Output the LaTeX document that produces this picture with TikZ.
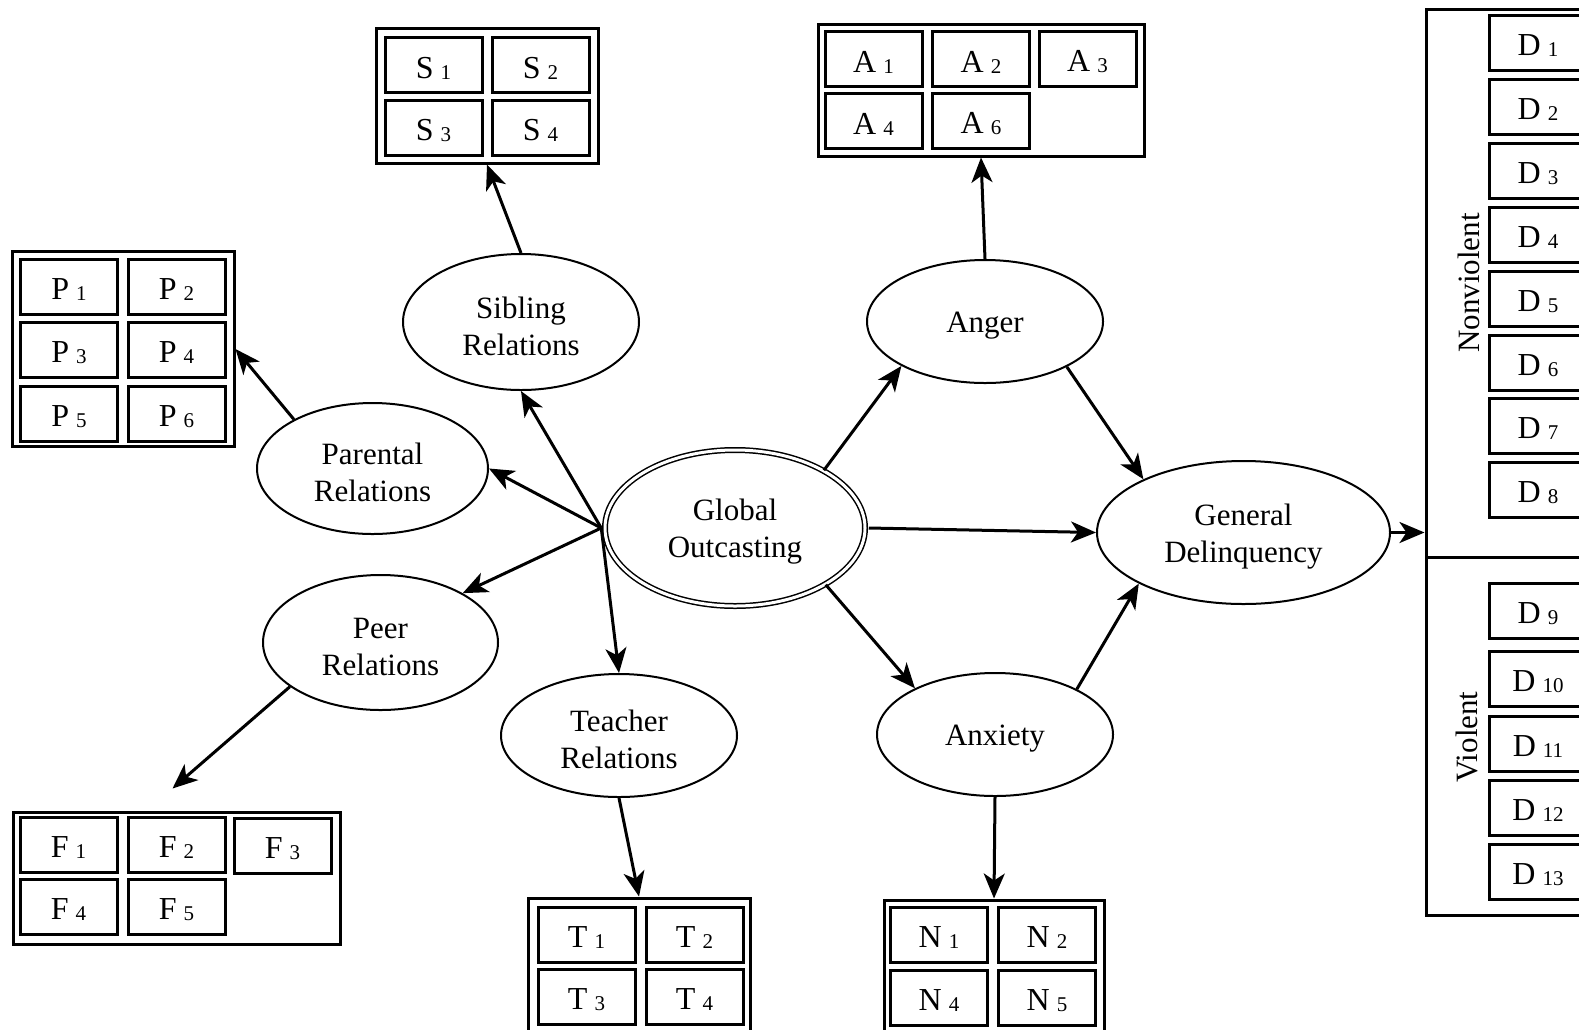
\documentclass[tikz,border=0pt]{standalone}
\usepackage{fontspec}
\setmainfont{Liberation Serif}
\usetikzlibrary{arrows.meta,shapes.geometric}

% item label: letter, gap, smaller index on the baseline; set a little low in its box
\newcommand{\ix}[2]{\raisebox{-3pt}[\height][\depth]{#1\hspace{7pt}\raisebox{-1pt}{\fontsize{21}{21}\selectfont #2}}}
% one line of a construct name, set a little low in its ellipse
\newcommand{\dn}[1]{\raisebox{-4pt}[\height][\depth]{#1}}

\begin{document}
\begin{tikzpicture}[x=1pt,y=-1pt,
  every node/.style={font=\fontsize{31}{37}\selectfont},
  latent/.style={ellipse, draw, line width=2pt, inner sep=0pt, align=center},
  cell/.style={draw, line width=3pt, minimum width=97pt, minimum height=55pt, inner sep=0pt,
    font=\fontsize{32}{32}\selectfont},
  group/.style={draw, line width=3pt, inner sep=0pt},
  arr/.style={line width=3pt, -{Stealth[length=25pt,width=21pt,inset=7pt]}}
]
\useasboundingbox (0,0) rectangle (1579,1029);
\clip (0,0) rectangle (1579,1029);

% ---------- latent constructs ----------
\node[ellipse, draw, double, double distance=3pt, line width=1.5pt, inner sep=0pt, align=center,
      minimum width=260pt, minimum height=156pt] (go) at (735,528) {\dn{Global}\\\dn{Outcasting}};
\node[latent, minimum width=236pt, minimum height=136pt] (sib)   at (521,322)   {\dn{Sibling}\\\dn{Relations}};
\node[latent, minimum width=231pt, minimum height=131pt] (par)   at (372.5,468.5) {\dn{Parental}\\\dn{Relations}};
\node[latent, minimum width=235pt, minimum height=135pt] (peer)  at (380.5,642.5) {\dn{Peer}\\\dn{Relations}};
\node[latent, minimum width=236pt, minimum height=123pt] (teach) at (619,735.5) {\dn{Teacher}\\\dn{Relations}};
\node[latent, minimum width=236pt, minimum height=123pt] (ang)   at (985,321.5) {\dn{Anger}};
\node[latent, minimum width=236pt, minimum height=123pt] (anx)   at (995,734.5) {\dn{Anxiety}};
\node[latent, minimum width=293pt, minimum height=143pt] (gd)    at (1243.5,532.5) {\dn{General}\\\dn{Delinquency}};

% ---------- indicator groups ----------
% siblings
\node[group, minimum width=222pt, minimum height=135pt] (sbox) at (487,95.5) {};
\node[cell] (s1) at (433.5,65)    {\ix{S}{1}};
\node[cell] (s2) at (540.5,65)    {\ix{S}{2}};
\node[cell] (s3) at (433.5,127.5) {\ix{S}{3}};
\node[cell] (s4) at (540.5,127.5) {\ix{S}{4}};

% parents
\node[group, minimum width=222pt, minimum height=195pt] (pbox) at (123,349) {};
\node[cell] (p1) at (69,286.5)  {\ix{P}{1}};
\node[cell] (p2) at (176.5,286.5) {\ix{P}{2}};
\node[cell] (p3) at (69,350)    {\ix{P}{3}};
\node[cell] (p4) at (176.5,350) {\ix{P}{4}};
\node[cell] (p5) at (69,413.5)  {\ix{P}{5}};
\node[cell] (p6) at (176.5,413.5) {\ix{P}{6}};

% peers
\node[group, minimum width=327pt, minimum height=132pt] (fbox) at (176.5,878) {};
\node[cell] (f1) at (68.5,845) {\ix{F}{1}};
\node[cell] (f2) at (176.5,845) {\ix{F}{2}};
\node[cell] (f3) at (282.5,846) {\ix{F}{3}};
\node[cell] (f4) at (68.5,907) {\ix{F}{4}};
\node[cell] (f5) at (176.5,907) {\ix{F}{5}};

% teachers
\node[group, minimum width=222pt, minimum height=150pt] (tbox) at (639,973) {};
\node[cell] (t1) at (586.5,935) {\ix{T}{1}};
\node[cell] (t2) at (694.5,935) {\ix{T}{2}};
\node[cell] (t3) at (586.5,997) {\ix{T}{3}};
\node[cell] (t4) at (694.5,997) {\ix{T}{4}};

% anger
\node[group, minimum width=326pt, minimum height=132pt] (abox) at (981,90) {};
\node[cell] (a1) at (873.5,59)  {\ix{A}{1}};
\node[cell] (a2) at (981,59)    {\ix{A}{2}};
\node[cell] (a3) at (1087.5,59) {\ix{A}{3}};
\node[cell] (a4) at (873.5,121) {\ix{A}{4}};
\node[cell] (a6) at (981,121)   {\ix{A}{6}};

% anxiety
\node[group, minimum width=220pt, minimum height=150pt] (nbox) at (994,975) {};
\node[cell] (n1) at (939,935)    {\ix{N}{1}};
\node[cell] (n2) at (1047,935)   {\ix{N}{2}};
\node[cell] (n4) at (939,997.5)  {\ix{N}{4}};
\node[cell] (n5) at (1047,997.5) {\ix{N}{5}};

% delinquency items
\node[group, minimum width=184pt, minimum height=906pt] (dbox) at (1518,462) {};
\coordinate (split) at (1426,557);
\draw[line width=3pt] (split) -- (split -| dbox.east);
\node[rotate=90] (nv) at (1469,283) {Nonviolent};
\node[rotate=90] (vi) at (1467,737) {Violent};
\foreach \k/\y in {1/43,2/107,3/171,4/235,5/299,6/362.5,7/426,8/490,
                   9/610.5,10/678.5,11/743.5,12/808,13/871.5}
  \node[cell] (d\k) at (1538,\y) {\ix{D}{\k}};

% ---------- paths ----------
\coordinate (hub) at ([xshift=-3pt]go.west);
\draw[arr] (hub) -- (sib.south);
\draw[arr] (hub) -- (par.east);
\draw[arr] (hub) -- (peer.31);
\draw[arr] (hub) -- (teach.north);

\draw[arr] (sib.north) -- (sbox.south);
\draw[arr] (par.148) -- (pbox.east);
\draw[arr] (peer.206) -- ([shift={(-4,-22)}]fbox.north);
\draw[arr] (teach.south) -- (tbox.north);

\draw[arr] (go.33) -- (ang.208);
\draw[arr] (go.328) -- (anx.150);
\draw[arr] ([xshift=3pt]go.east) -- (gd.west);
\draw[arr] (ang.331) -- (gd.152);
\draw[arr] (anx.29) -- (gd.206);

\draw[arr] (ang.north) -- (abox.south);
\draw[arr] (anx.south) -- (nbox.north);
\draw[arr] (gd.east) -- (gd.east -| dbox.west);
\end{tikzpicture}
\end{document}
